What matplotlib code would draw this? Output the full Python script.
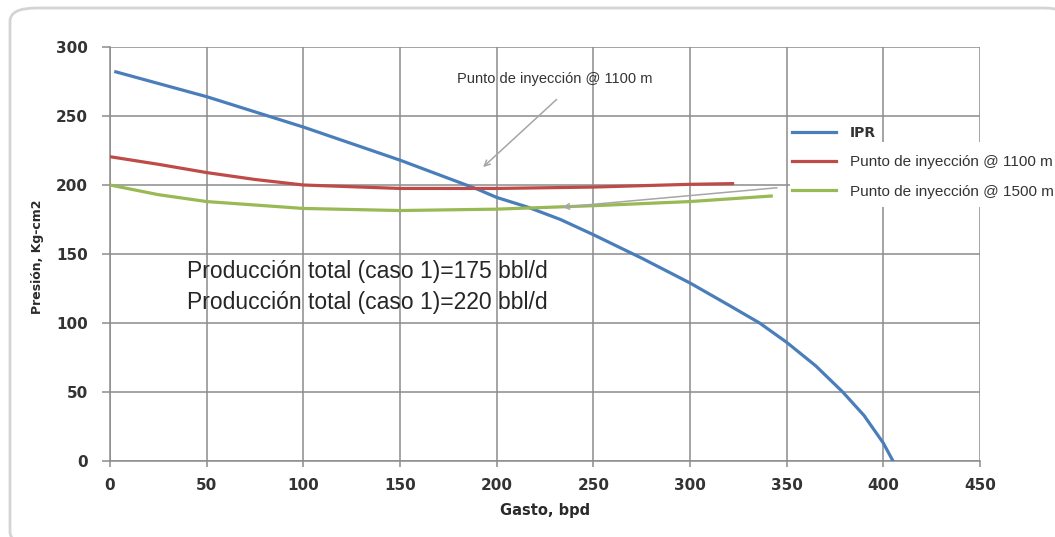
import matplotlib
matplotlib.use('Agg')
import matplotlib.pyplot as plt
from matplotlib.patches import FancyBboxPatch, Rectangle

# IPR curve
ipr_q = [3, 50, 100, 150, 190, 200, 216, 233, 250, 275, 300, 320, 336, 350, 365, 379, 390, 400, 405]
ipr_p = [282, 264, 242, 218, 197, 191, 184, 175, 164, 147, 129, 113, 100, 86, 69, 50, 33, 13, 0]

# injection point @ 1100 m
q1100 = [0, 25, 50, 75, 100, 150, 200, 250, 300, 322]
p1100 = [220.5, 215, 209, 204, 200, 197.5, 197.5, 198.5, 200.5, 201]

# injection point @ 1500 m
q1500 = [0, 25, 50, 100, 150, 200, 250, 300, 342]
p1500 = [200, 193, 188, 183, 181.5, 182.5, 185, 188, 192]

xticks = [0, 50, 100, 150, 200, 250, 300, 350, 400, 450]
yticks = [0, 50, 100, 150, 200, 250, 300]

W, H = 1055, 537
fig = plt.figure(figsize=(W / 100, H / 100), dpi=100)
fig.patch.set_facecolor('white')

# rounded frame around the whole picture
frame = FancyBboxPatch((10 / W, (H - 545) / H), 1060 / W, 537 / H,
                       boxstyle='round,pad=0,rounding_size=0.025',
                       transform=fig.transFigure, facecolor='white',
                       edgecolor='#d4d4d4', linewidth=2, zorder=-5)
fig.add_artist(frame)

ax = fig.add_axes([110 / W, (H - 461) / H, 870 / W, 414 / H])
ax.set_facecolor('none')

ax.plot(ipr_q, ipr_p, color='#4a7ebb', lw=2.3, label='IPR', zorder=3)
ax.plot(q1100, p1100, color='#be4b48', lw=2.3, label='Punto de inyección @ 1100 m', zorder=3)
ax.plot(q1500, p1500, color='#98b954', lw=2.3, label='Punto de inyección @ 1500 m', zorder=3)

ax.set_xlim(0, 450)
ax.set_ylim(0, 300)
ax.set_xticks(xticks)
ax.set_yticks(yticks)
ax.grid(True, color='#8c8c8c', lw=1.1)
ax.set_axisbelow(True)
for s in ['top', 'right']:
    ax.spines[s].set_visible(False)
for s in ['left', 'bottom']:
    ax.spines[s].set_color('#8c8c8c')
    ax.spines[s].set_linewidth(1.1)
ax.tick_params(axis='both', colors='#8c8c8c', labelcolor='#333333', width=1.1)
ax.tick_params(axis='y', length=6, pad=10)
ax.tick_params(axis='x', length=4.5, pad=8)
for lab in ax.get_xticklabels() + ax.get_yticklabels():
    lab.set_fontweight('bold')
    lab.set_fontsize(11)

ax.set_xlabel('Gasto, bpd', fontsize=10.5, fontweight='bold', color='#2a2a2a')
ax.set_ylabel('Presión, Kg-cm2', fontsize=9, fontweight='bold', color='#2a2a2a')
ax.xaxis.set_label_coords(0.5, -0.101)
ax.yaxis.set_label_coords(-0.076, 0.493)

txtfont = ['Liberation Sans', 'DejaVu Sans']
ax.text(40, 137, 'Producción total (caso 1)=175 bbl/d', fontsize=16.5,
        family=txtfont, color='#262626', va='center', ha='left')
ax.text(40, 114.5, 'Producción total (caso 1)=220 bbl/d', fontsize=16.5,
        family=txtfont, color='#262626', va='center', ha='left')

arrow = dict(arrowstyle='->', color='#a6a6a6', lw=1.1, shrinkA=0, shrinkB=0)
ax.annotate('', xy=(193, 213), xytext=(231, 262), arrowprops=arrow, zorder=4)
ax.text(230, 277, 'Punto de inyección @ 1100 m', fontsize=10.5, family=txtfont,
        color='#333333', ha='center', va='center')
ax.annotate('', xy=(234, 184), xytext=(345, 198), arrowprops=arrow, zorder=4)

# white patch behind the legend entries (hides the grid there)
fig.add_artist(Rectangle((790 / W, (H - 207) / H), 280 / W, 65 / H,
                         transform=fig.transFigure, facecolor='white',
                         edgecolor='none', zorder=2))

handles, labels = ax.get_legend_handles_labels()
leg = fig.legend(handles, labels, loc='upper left',
                 bbox_to_anchor=(792 / W, (H - 126) / H),
                 frameon=False, handlelength=2.9,
                 handletextpad=0.9, labelspacing=1.0, borderaxespad=0,
                 borderpad=0, prop={'family': txtfont, 'size': 11})
leg.set_zorder(5)
for t in leg.get_texts():
    t.set_color('#333333')
leg.get_texts()[0].set_fontweight('bold')
leg.get_texts()[0].set_family('DejaVu Sans')
leg.get_texts()[0].set_fontsize(10)

fig.savefig('out.png', dpi=100)
